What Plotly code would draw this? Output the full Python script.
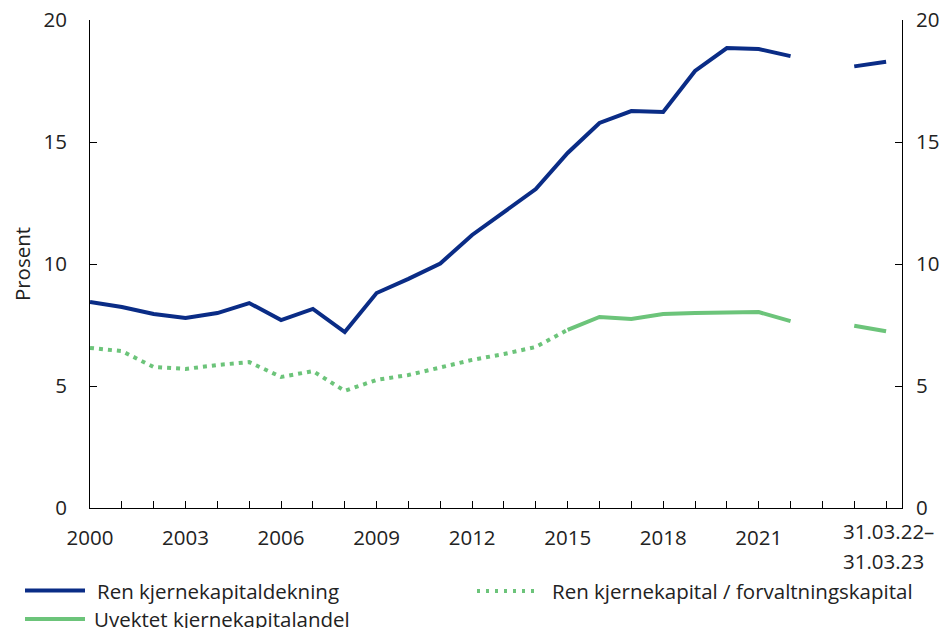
import plotly.graph_objects as go

# Perioder: årstall 2000-2022, et tomt mellomrom, så kvartalstall
periods = [str(y) for y in range(2000, 2023)] + ["", "31.03.22", "31.03.23"]

ren_kjernekapitaldekning = [
    8.44, 8.24, 7.95, 7.79, 7.99, 8.40, 7.70, 8.16, 7.21, 8.81,
    9.39, 10.02, 11.19, 12.13, 13.07, 14.55, 15.78, 16.27, 16.23, 17.91,
    18.85, 18.81, 18.52, None, 18.10, 18.29,
]
ren_kk_forvaltning = [
    6.56, 6.43, 5.78, 5.70, 5.86, 5.98, 5.37, 5.61, 4.80, 5.25,
    5.45, 5.78, 6.07, 6.31, 6.60, 7.30,
]
uvektet_kk_andel = [None] * 15 + [
    7.30, 7.83, 7.75, 7.95, 7.99, 8.03, 8.03, 7.66, None, 7.47, 7.24,
]

year_ticks = ["2000", "2003", "2006", "2009", "2012", "2015", "2018", "2021"]
quarter_label = ["31.03.22–", "31.03.23"]

x = list(range(len(periods)))
tick_idx = [periods.index(t) for t in year_ticks]

BLUE = "#0A2C86"
GREEN = "#6CC47A"
FONT = "Open Sans"
TXT = "#222222"
FS = 20.5

names = ["Ren kjernekapitaldekning", "Ren kjernekapital / forvaltningskapital",
         "Uvektet kjernekapitalandel"]

fig = go.Figure()
fig.add_trace(go.Scatter(
    x=x, y=ren_kjernekapitaldekning, mode="lines", name=names[0],
    line=dict(color=BLUE, width=4), connectgaps=False,
))
fig.add_trace(go.Scatter(
    x=x[:len(ren_kk_forvaltning)], y=ren_kk_forvaltning, mode="lines", name=names[1],
    line=dict(color=GREEN, width=4, dash="4px,5px"),
))
fig.add_trace(go.Scatter(
    x=x, y=uvektet_kk_andel, mode="lines", name=names[2],
    line=dict(color=GREEN, width=4), connectgaps=False,
))
# usynlig spor for høyre akse
fig.add_trace(go.Scatter(x=[0], y=[None], yaxis="y2", showlegend=False, hoverinfo="skip"))

yaxis_common = dict(
    range=[0, 20], tickvals=[0, 5, 10, 15, 20], showgrid=False, zeroline=False,
    showline=True, linecolor="black", linewidth=1, automargin=False,
    ticks="inside", ticklen=7, tickcolor="black", ticklabeloverflow="allow",
    tickfont=dict(family=FONT, size=FS, color=TXT),
)

# siden har 8 px marg rundt figuren, så figuren gjøres litt mindre
OFF = 8
W, H = 949 - OFF, 628 - OFF
L, R, T, B = 90 - OFF, 47, 20 - OFF, 120
pw, ph = W - L - R, H - T - B

# pikselposisjon i vinduet -> papirkoordinater
def px(xp):
    return (xp - OFF - L) / pw
def py(yp):
    return (H - B - (yp - OFF)) / ph

# manuell tegnforklaring
legend_items = [
    (names[0], BLUE, "solid", 25, 590.5, 95),
    (names[1], GREEN, "3px,6px", 477, 591, 550),
    (names[2], GREEN, "solid", 25, 619, 92),
]
shapes = []
annotations = []
for label, col, dash, x0, yy, tx in legend_items:
    x1 = x0 + 60 if dash == "solid" else x0 + 58
    shapes.append(dict(type="line", xref="paper", yref="paper",
                       x0=px(x0), x1=px(x1), y0=py(yy), y1=py(yy),
                       line=dict(color=col, width=4, dash=dash)))
    annotations.append(dict(text=label, xref="paper", yref="paper",
                            x=px(tx), y=py(yy), xanchor="left", yanchor="middle",
                            showarrow=False, font=dict(family=FONT, size=FS, color=TXT)))

# etikett for kvartalstallene
for line_txt, yy in zip(quarter_label, [531, 561]):
    annotations.append(dict(text=line_txt, xref="x", yref="paper", x=x[-1], y=py(yy),
                            xanchor="left", yanchor="middle", xshift=-45,
                            showarrow=False, font=dict(family=FONT, size=FS, color=TXT)))

fig.update_layout(
    width=W, height=H,
    margin=dict(l=L, r=R, t=T, b=B),
    plot_bgcolor="white", paper_bgcolor="white",
    font=dict(family=FONT, size=FS, color=TXT),
    xaxis=dict(
        range=[0, 25.5], tickvals=tick_idx, ticktext=year_ticks,
        showgrid=False, zeroline=False, showline=True, linecolor="black",
        ticks="inside", ticklen=7, tickcolor="black", automargin=False,
        minor=dict(tick0=0, dtick=1, ticks="inside", ticklen=7, tickcolor="black"),
        tickfont=dict(family=FONT, size=FS, color=TXT), tickangle=0,
        ticklabelstandoff=11, ticklabeloverflow="allow",
    ),
    yaxis=dict(**yaxis_common,
               title=dict(text="Prosent", font=dict(family=FONT, size=FS, color=TXT), standoff=9),
               ticklabelstandoff=18),
    yaxis2=dict(**yaxis_common, overlaying="y", side="right", ticklabelstandoff=9),
    shapes=shapes,
    annotations=annotations,
    showlegend=False,
)

fig.write_html("out.html")
